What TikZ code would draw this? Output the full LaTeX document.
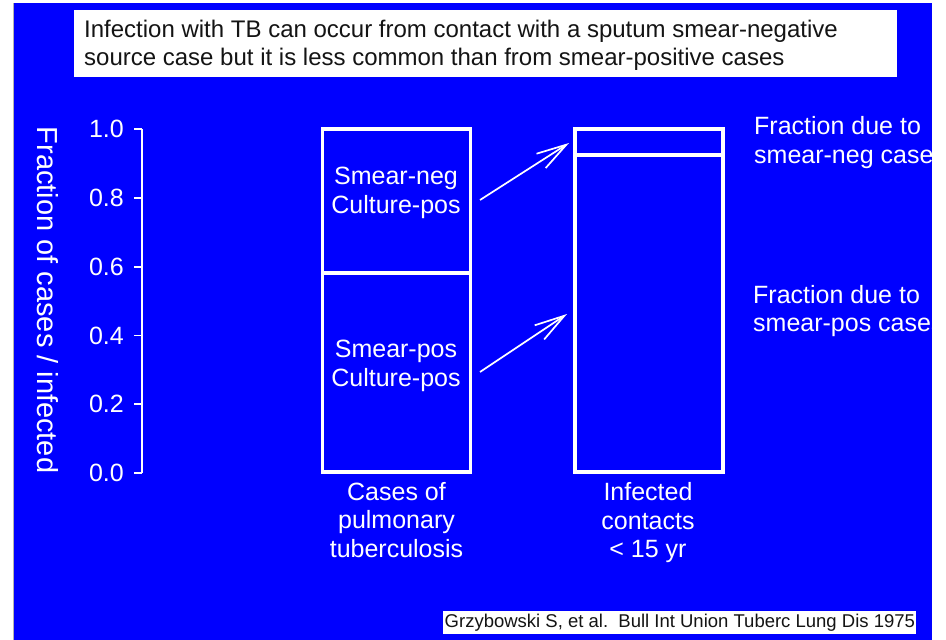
\documentclass[tikz,border=0pt]{standalone}
\usepackage{fontspec}
\setmainfont{Liberation Sans}
\usetikzlibrary{arrows.meta}
\definecolor{bgblue}{RGB}{0,0,255}
\definecolor{ink}{RGB}{20,20,20}
\begin{document}
\begin{tikzpicture}[x=1pt,y=-1pt,
  wtext/.style={text=white, inner sep=0pt, font=\fontsize{25}{28.5}\selectfont},
  ticklbl/.style={wtext, anchor=east},
  barpart/.style={draw=white, line width=3.6pt, minimum width=148pt, inner sep=0pt},
  arr/.style={draw=white, line width=1.7pt, -{Straight Barb[length=30pt,width=17pt,line width=1.7pt]}},
  axisline/.style={draw=white, line width=1.8pt}
]
\useasboundingbox (0,0) rectangle (946,640);
\fill[white] (0,0) rectangle (946,640);
\fill[bgblue] (13,3) rectangle (932,640);
\draw[gray!60, line width=0.8pt] (13,3) -- (13,640);

% title
\node[fill=white, minimum width=823pt, minimum height=67pt, inner sep=0pt, anchor=north west] (titlebox) at (74,10) {};
\node[anchor=west, align=left, inner sep=0pt, text=ink, font=\fontsize{24}{28}\selectfont] (title) at (84,45)
  {Infection with TB can occur from contact with a sputum smear-negative\\source case but it is less common than from smear-positive cases};

% y axis
\node[wtext, rotate=-90, font=\fontsize{29}{33}\selectfont] (ylabel) at (48,300) {Fraction of cases / infected};
\coordinate (ax0) at (142,473);
\coordinate (ax1) at (142,129);
\draw[axisline] (ax0) -- (ax1);
\foreach \v/\t [count=\i] in {0/0.0,0.2/0.2,0.4/0.4,0.6/0.6,0.8/0.8,1/1.0}{
  \coordinate (tk\i) at (142,473-344*\v);
  \coordinate (tl\i) at (134,473-344*\v);
  \draw[axisline] (tk\i) -- (tl\i);
  \node[ticklbl] (lab\i) at (124,473-344*\v) {\t};
}

% left bar
\node[barpart, minimum height=144pt] (negbox) at (396.5,201) {};
\node[barpart, minimum height=199pt] (posbox) at (396.5,372.5) {};
\node[wtext, align=center] (neglbl) at (396,193) {Smear-neg\\Culture-pos};
\node[wtext, align=center] (poslbl) at (396,366) {Smear-pos\\Culture-pos};
\node[wtext, align=center] (leftcap) at (396.5,520) {Cases of\\pulmonary\\tuberculosis};

% right bar
\node[barpart, minimum height=26pt] (rneg) at (649,142) {};
\node[barpart, minimum height=317pt] (rpos) at (649,313.5) {};
\node[wtext, align=center] (rightcap) at (648,523) {Infected\\contacts\\< 15 yr};

% arrows
\coordinate (a1s) at (480,200);
\coordinate (a1e) at (569,143);
\coordinate (a2s) at (480,372);
\coordinate (a2e) at (567,314);
\draw[arr] (a1s) -- (a1e);
\draw[arr] (a2s) -- (a2e);

% right notes
\node[wtext, align=left, anchor=west] (noteneg) at (754,142.5) {Fraction due to\\smear-neg cases};
\node[wtext, align=left, anchor=west] (notepos) at (753,311) {Fraction due to\\smear-pos cases};
\fill[white] (932,0) rectangle (946,640);

% citation
\node[fill=white, anchor=west, inner sep=1.5pt, text=ink, font=\fontsize{18.5}{21}\selectfont, minimum height=23pt] (cite) at (443,622.5)
  {Grzybowski S, et al.\ \ Bull Int Union Tuberc Lung Dis 1975};
\end{tikzpicture}
\end{document}
